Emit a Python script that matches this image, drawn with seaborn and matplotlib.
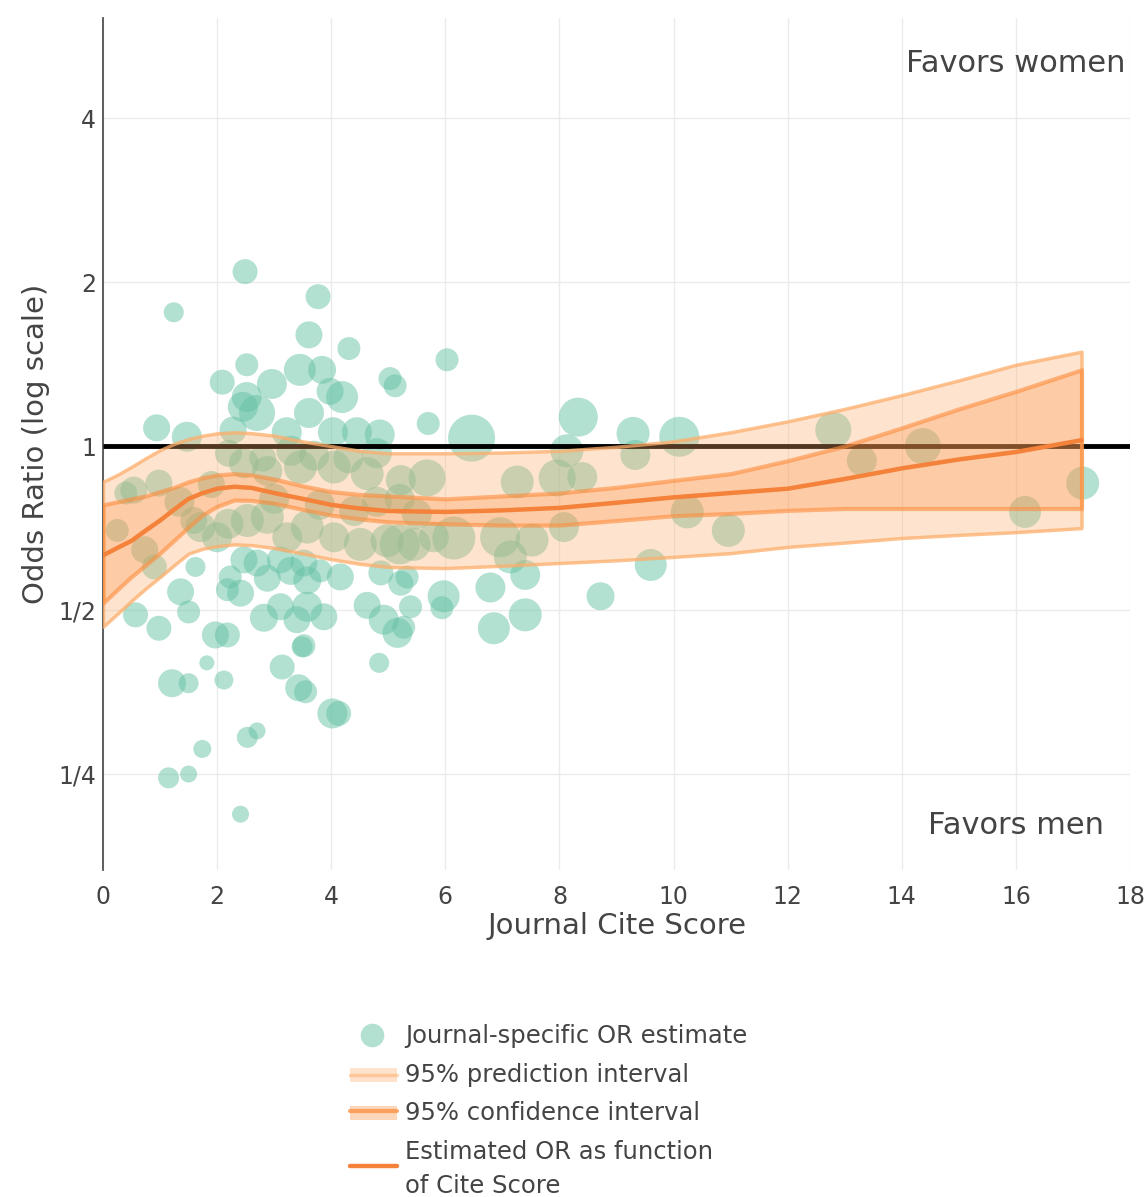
import numpy as np
import pandas as pd
import matplotlib
matplotlib.use("Agg")
import matplotlib.pyplot as plt
from matplotlib.lines import Line2D
from matplotlib.patches import Rectangle
import seaborn as sns

# ---------------- data ----------------
cite_score = [
    2.49, 1.24, 3.77, 3.61, 4.31, 6.03, 2.52, 2.09, 2.96, 3.45, 3.84, 5.03, 5.12, 2.52, 3.98, 4.19,
    5.70, 0.94, 1.47, 3.61, 2.70, 3.22, 4.03, 4.45, 4.85, 2.28, 2.45, 6.46, 8.33, 8.13, 9.29, 9.33,
    10.10, 12.8, 13.3, 14.37, 16.16, 17.17, 10.96,
    5.68, 7.26, 7.96, 8.40, 10.24, 5.20, 6.15, 6.96, 7.52, 8.08, 7.14, 9.60, 7.40, 5.97, 6.79, 8.72,
    7.40, 6.85, 5.94, 5.33, 5.39, 5.27,
    1.62, 1.36, 0.57, 1.50, 0.98, 1.97, 2.18, 2.18, 2.41, 2.47, 2.70, 2.88, 3.11, 3.29, 3.52, 3.58,
    3.81, 4.16, 2.23, 2.82, 3.11, 3.40, 3.58, 3.87, 3.52, 4.63, 4.92, 5.16, 5.22, 4.87,
    1.82, 1.21, 1.50, 2.12, 3.14, 3.49, 3.43, 3.55, 4.02, 4.13, 4.84, 2.53, 2.70, 1.74, 1.15, 1.50, 2.41,
    0.98, 0.54, 1.59, 1.71, 2.00, 2.53, 2.88, 3.23, 3.58, 4.05, 4.51, 4.98, 5.45, 5.80, 5.22, 4.63,
    4.05, 3.46, 2.88, 2.47, 2.20, 2.80, 3.30, 3.70, 4.30, 4.80, 0.40, 0.73, 1.34, 2.20, 4.40, 4.80,
    5.20, 5.50, 3.00, 3.80, 1.90, 0.25, 0.90,
]
odds_ratio = [
    2.09, 1.76, 1.88, 1.60, 1.51, 1.44, 1.41, 1.31, 1.30, 1.38, 1.38, 1.33, 1.29, 1.23, 1.26, 1.23,
    1.10, 1.08, 1.04, 1.15, 1.15, 1.06, 1.06, 1.06, 1.05, 1.07, 1.18, 1.034, 1.13, 0.98, 1.055, 0.963,
    1.04, 1.07, 0.94, 1.00, 0.757, 0.855, 0.70,
    0.874, 0.859, 0.874, 0.877, 0.757, 0.66, 0.678, 0.68, 0.672, 0.71, 0.626, 0.605, 0.58, 0.53, 0.55, 0.53,
    0.49, 0.463, 0.505, 0.575, 0.507, 0.465,
    0.60, 0.54, 0.49, 0.496, 0.463, 0.45, 0.45, 0.545, 0.537, 0.618, 0.61, 0.572, 0.618, 0.59, 0.61, 0.567,
    0.59, 0.575, 0.575, 0.484, 0.507, 0.48, 0.507, 0.486, 0.43, 0.51, 0.48, 0.454, 0.56, 0.585,
    0.40, 0.367, 0.367, 0.372, 0.393, 0.428, 0.36, 0.354, 0.323, 0.323, 0.40, 0.292, 0.30, 0.278, 0.246, 0.25, 0.211,
    0.855, 0.83, 0.73, 0.71, 0.68, 0.73, 0.74, 0.68, 0.71, 0.68, 0.66, 0.67, 0.66, 0.68, 0.866, 0.89,
    0.915, 0.915, 0.90, 0.93, 0.97, 0.95, 0.98, 0.96, 0.95, 0.97, 0.82, 0.645, 0.79, 0.72, 0.76, 0.79,
    0.80, 0.75, 0.80, 0.78, 0.85, 0.70, 0.60,
]
marker_size = [
    25, 20, 25, 27, 23, 23, 23, 25, 30, 32, 28, 23, 23, 30, 27, 32,
    23, 27, 30, 30, 36, 30, 30, 30, 30, 27, 30, 47, 39, 33, 33, 30,
    40, 36, 30, 36, 32, 33, 33,
    37, 33, 37, 30, 33, 40, 43, 40, 33, 30, 33, 32, 30, 32, 30, 28,
    33, 32, 23, 23, 23, 23,
    20, 27, 25, 23, 25, 27, 25, 23, 27, 27, 27, 27, 27, 28, 27, 28,
    23, 27, 23, 28, 27, 27, 30, 27, 23, 27, 30, 30, 25, 25,
    15, 28, 20, 19, 25, 21, 27, 23, 30, 25, 20, 21, 17, 18, 21, 17, 17,
    27, 27, 27, 30, 30, 33, 33, 30, 33, 30, 33, 33, 33, 30, 30, 33,
    33, 33, 30, 30, 27, 27, 30, 30, 30, 30, 23, 27, 30, 30, 30, 30,
    30, 30, 30, 30, 27, 23, 25,
]

curve_x = [0, 0.25, 0.5, 0.75, 1, 1.25, 1.5, 1.75, 2, 2.3, 2.6, 3, 3.5, 4, 4.5, 5, 6, 7, 8, 9,
           10, 11, 12, 13, 14, 15, 16, 17.15]
est_or = [0.63, 0.65, 0.67, 0.70, 0.73, 0.765, 0.80, 0.82, 0.835, 0.842, 0.838, 0.82, 0.80,
          0.78, 0.768, 0.76, 0.757, 0.762, 0.77, 0.787, 0.805, 0.82, 0.835, 0.87, 0.91, 0.945,
          0.975, 1.025]
ci_upper = [0.78, 0.79, 0.80, 0.81, 0.825, 0.84, 0.86, 0.875, 0.885, 0.89, 0.885, 0.87, 0.845,
            0.825, 0.815, 0.81, 0.80, 0.81, 0.82, 0.84, 0.865, 0.89, 0.94, 1.0, 1.08, 1.17,
            1.26, 1.38]
ci_lower = [0.515, 0.545, 0.576, 0.605, 0.636, 0.672, 0.71, 0.748, 0.775, 0.796, 0.795, 0.785,
            0.765, 0.747, 0.735, 0.726, 0.72, 0.716, 0.716, 0.73, 0.745, 0.752, 0.762, 0.768,
            0.768, 0.768, 0.768, 0.768]
pi_upper = [0.86, 0.885, 0.916, 0.95, 0.983, 1.01, 1.03, 1.045, 1.055, 1.06, 1.056, 1.045,
            1.02, 1.0, 0.98, 0.97, 0.97, 0.973, 0.98, 0.997, 1.02, 1.06, 1.11, 1.17, 1.24,
            1.32, 1.41, 1.49]
pi_lower = [0.466, 0.492, 0.52, 0.548, 0.575, 0.605, 0.635, 0.648, 0.655, 0.66, 0.658, 0.65,
            0.635, 0.62, 0.608, 0.60, 0.597, 0.603, 0.61, 0.617, 0.626, 0.636, 0.653, 0.665,
            0.678, 0.687, 0.695, 0.707]

y_ticks = [0.25, 0.5, 1, 2, 4]
y_tick_labels = ["1/4", "1/2", "1", "2", "4"]
x_ticks = [0, 2, 4, 6, 8, 10, 12, 14, 16, 18]

# ---------------- styling ----------------
TEAL = "#66c2a5"
PI_COL = "#fdae6b"
CI_COL = "#fd8d3c"
LINE_COL = "#f4823a"
TXT = "#444444"

sns.set_style("white")
plt.rcParams["font.family"] = ["DejaVu Sans"]

W, H = 1148, 1197
fig = plt.figure(figsize=(W / 100, H / 100), dpi=100)
ax = fig.add_axes([103 / W, 1 - 870 / H, (1130 - 103) / W, (870 - 18) / H])

pts = pd.DataFrame({"cite": cite_score, "or": odds_ratio, "size": marker_size})
size_map = {d: (d * 0.72) ** 2 for d in sorted(set(marker_size))}
sns.scatterplot(data=pts, x="cite", y="or", size="size", sizes=size_map, color=TEAL,
                alpha=0.5, linewidth=0, legend=False, ax=ax, zorder=2)

ax.set_yscale("log", base=2)
ax.set_xlim(0, 18)
ax.set_ylim(2 ** -2.585, 2 ** 2.61)

# reference line at OR = 1
ax.plot([0, 18], [1, 1], color="black", lw=3.5, zorder=3, solid_capstyle="butt")

# bands
ax.fill_between(curve_x, pi_lower, pi_upper, facecolor=matplotlib.colors.to_rgba(PI_COL, 0.32),
                edgecolor=matplotlib.colors.to_rgba(PI_COL, 0.75), linewidth=2.5, zorder=4)
ax.fill_between(curve_x, ci_lower, ci_upper, facecolor=matplotlib.colors.to_rgba(CI_COL, 0.28),
                edgecolor=matplotlib.colors.to_rgba(CI_COL, 0.6), linewidth=3, zorder=5)
curve = pd.DataFrame({"x": curve_x, "y": est_or})
sns.lineplot(data=curve, x="x", y="y", color=LINE_COL, lw=3.2, ax=ax, zorder=6)

# axes cosmetics
ax.set_xticks(x_ticks)
ax.set_xticklabels([str(t) for t in x_ticks])
ax.set_yticks(y_ticks)
ax.set_yticklabels(y_tick_labels)
ax.yaxis.set_minor_locator(matplotlib.ticker.NullLocator())
ax.tick_params(axis="both", length=0, labelsize=17, colors=TXT)
ax.tick_params(axis="x", pad=11)
ax.tick_params(axis="y", pad=5)
ax.grid(True, color="#ebebeb", lw=1)
ax.set_axisbelow(True)
for s in ["top", "right", "bottom"]:
    ax.spines[s].set_visible(False)
ax.spines["left"].set_color("#444444")
ax.spines["left"].set_linewidth(1.2)
ax.set_xlabel("Journal Cite Score", fontsize=21, color=TXT, labelpad=2)
ax.set_ylabel("Odds Ratio (log scale)", fontsize=21, color=TXT, labelpad=6)

ax.text(16, 2 ** 2.335, "Favors women", ha="center", va="center", fontsize=22, color=TXT)
ax.text(16, 2 ** -2.311, "Favors men", ha="center", va="center", fontsize=22, color=TXT)

# ---------------- legend (figure coordinates) ----------------
def fx(px):
    return px / W

def fy(py):
    return 1 - py / H

LFS = 17.5
fig.add_artist(Line2D([fx(372)], [fy(1035)], marker="o", markersize=17, color=TEAL, alpha=0.5,
                      markeredgewidth=0, linestyle="none", transform=fig.transFigure))
fig.text(fx(405), fy(1036), "Journal-specific OR estimate", fontsize=LFS, color=TXT, va="center")

# PI swatch
fig.add_artist(Rectangle((fx(350), fy(1082)), fx(397) - fx(350), 14 / H, transform=fig.transFigure,
                         facecolor=matplotlib.colors.to_rgba(PI_COL, 0.35), edgecolor="none"))
fig.add_artist(Line2D([fx(350), fx(397)], [fy(1075), fy(1075)], color=PI_COL, alpha=0.5, lw=2.5,
                      transform=fig.transFigure))
fig.text(fx(405), fy(1075), "95% prediction interval", fontsize=LFS, color=TXT, va="center")

# CI swatch
fig.add_artist(Rectangle((fx(350), fy(1120)), fx(397) - fx(350), 14 / H, transform=fig.transFigure,
                         facecolor=matplotlib.colors.to_rgba(CI_COL, 0.35), edgecolor="none"))
fig.add_artist(Line2D([fx(350), fx(397)], [fy(1111), fy(1111)], color=CI_COL, alpha=0.75, lw=3,
                      transform=fig.transFigure))
fig.text(fx(405), fy(1113), "95% confidence interval", fontsize=LFS, color=TXT, va="center")

# estimate line swatch
fig.add_artist(Line2D([fx(350), fx(397)], [fy(1166), fy(1166)], color=LINE_COL, lw=3.2,
                      transform=fig.transFigure))
fig.text(fx(405), fy(1152), "Estimated OR as function", fontsize=LFS, color=TXT, va="center")
fig.text(fx(405), fy(1186), "of Cite Score", fontsize=LFS, color=TXT, va="center")

fig.savefig("out.png", dpi=100, facecolor="white")
